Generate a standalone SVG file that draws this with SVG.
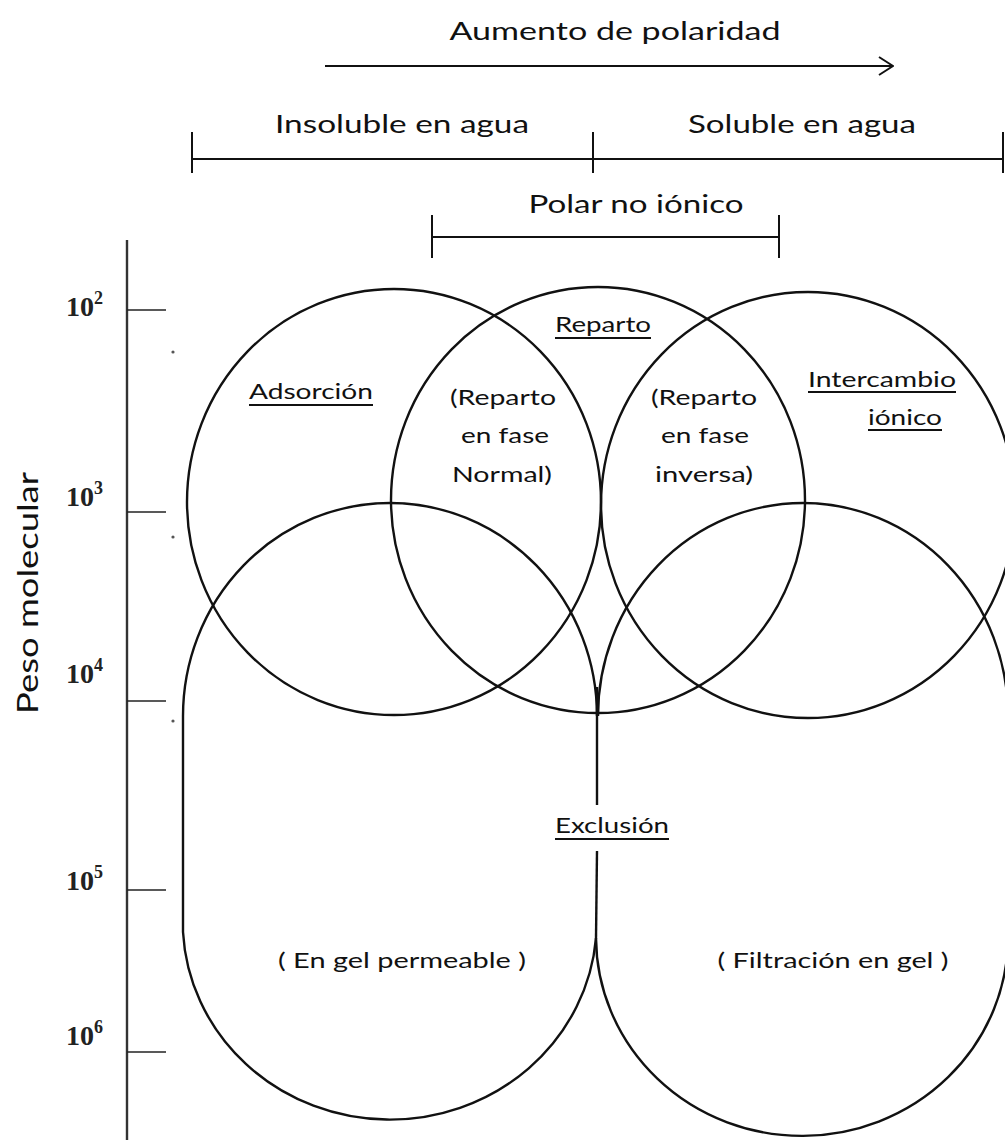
<svg xmlns="http://www.w3.org/2000/svg" width="1005" height="1140" viewBox="0 0 1005 1140">
  <style>
    .ln { stroke: #111; stroke-width: 2; fill: none; }
    .shape { stroke: #111; stroke-width: 2.4; fill: none; }
    .tick { stroke: #222; stroke-width: 1.6; }
    .ul { stroke: #111; stroke-width: 1.8; }
    .lbl { font-family: Lato, "DejaVu Sans", sans-serif; fill: #111; text-anchor: middle; }
    .top { font-size: 25px; }
    .reg { font-size: 22px; }
    .exp { font-family: "Liberation Serif", "DejaVu Serif", serif; font-weight: bold; font-size: 28px; fill: #222; }
    .exp tspan { font-size: 18px; }
  </style>
  <defs>
    <marker id="chev" viewBox="0 0 16 20" refX="15" refY="10" markerWidth="16" markerHeight="20" markerUnits="userSpaceOnUse" orient="auto">
      <path d="M1,1 L15,10 L1,19" fill="none" stroke="#111" stroke-width="2"/>
    </marker>
  </defs>

  <rect width="1005" height="1140" fill="#fff"/>

  <!-- polarity scale across the top -->
  <g id="polarity-scale">
    <text class="lbl top" x="615" y="40" textLength="331" lengthAdjust="spacingAndGlyphs">Aumento de polaridad</text>
    <text class="lbl top" x="402" y="133" textLength="254" lengthAdjust="spacingAndGlyphs">Insoluble en agua</text>
    <text class="lbl top" x="802" y="133" textLength="228" lengthAdjust="spacingAndGlyphs">Soluble en agua</text>
    <line class="ln" x1="192" y1="159" x2="1003" y2="159"/>
    <line class="ln" x1="192" y1="132" x2="192" y2="173"/>
    <line class="ln" x1="593" y1="132" x2="593" y2="173"/>
    <line class="ln" x1="1003" y1="132" x2="1003" y2="173"/>
    <text class="lbl top" x="636" y="213" textLength="215" lengthAdjust="spacingAndGlyphs">Polar no iónico</text>
    <line class="ln" x1="432" y1="237" x2="779" y2="237"/>
    <line class="ln" x1="432" y1="215" x2="432" y2="258"/>
    <line class="ln" x1="779" y1="215" x2="779" y2="258"/>
  </g>

  <!-- molecular weight axis -->
  <g id="weight-axis">
    <line x1="127" y1="240" x2="127" y2="1140" stroke="#333" stroke-width="2.4"/>
    <line class="tick" x1="127" y1="310" x2="166" y2="310"/>
    <line class="tick" x1="127" y1="512" x2="166" y2="512"/>
    <line class="tick" x1="127" y1="701" x2="166" y2="701"/>
    <line class="tick" x1="127" y1="890" x2="166" y2="890"/>
    <line class="tick" x1="127" y1="1052" x2="166" y2="1052"/>
    <text class="exp" x="66" y="316">10<tspan dy="-12">2</tspan></text>
    <text class="exp" x="66" y="506">10<tspan dy="-12">3</tspan></text>
    <text class="exp" x="66" y="683">10<tspan dy="-12">4</tspan></text>
    <text class="exp" x="66" y="890">10<tspan dy="-12">5</tspan></text>
    <text class="exp" x="66" y="1045">10<tspan dy="-12">6</tspan></text>
    <text class="lbl" font-size="29" transform="translate(38 593) rotate(-90)" textLength="242" lengthAdjust="spacingAndGlyphs">Peso molecular</text>
    <circle cx="173" cy="352" r="1.6" fill="#555"/>
    <circle cx="173" cy="537" r="1.6" fill="#555"/>
    <circle cx="173" cy="721" r="1.6" fill="#555"/>
  </g>

  <!-- adsorption region -->
  <g id="adsorcion">
    <ellipse class="shape" cx="394" cy="502" rx="207" ry="213"/>
    <text class="lbl reg" x="311" y="399" textLength="124" lengthAdjust="spacingAndGlyphs">Adsorción</text>
    <line class="ul" x1="249" y1="405" x2="373" y2="405"/>
  </g>

  <!-- partition region -->
  <g id="reparto">
    <ellipse class="shape" cx="598" cy="500" rx="207" ry="213"/>
    <text class="lbl reg" x="603" y="332" textLength="96" lengthAdjust="spacingAndGlyphs">Reparto</text>
    <line class="ul" x1="555" y1="338" x2="651" y2="338"/>
    <text class="lbl reg" x="503" y="405" textLength="106" lengthAdjust="spacingAndGlyphs">(Reparto</text>
    <text class="lbl reg" x="505" y="443" textLength="88" lengthAdjust="spacingAndGlyphs">en fase</text>
    <text class="lbl reg" x="502" y="482" textLength="100" lengthAdjust="spacingAndGlyphs">Normal)</text>
    <text class="lbl reg" x="704" y="405" textLength="106" lengthAdjust="spacingAndGlyphs">(Reparto</text>
    <text class="lbl reg" x="705" y="443" textLength="88" lengthAdjust="spacingAndGlyphs">en fase</text>
    <text class="lbl reg" x="704" y="482" textLength="98" lengthAdjust="spacingAndGlyphs">inversa)</text>
  </g>

  <!-- ion exchange region -->
  <g id="intercambio-ionico">
    <ellipse class="shape" cx="808" cy="505" rx="207" ry="213"/>
    <text class="lbl reg" x="882" y="387" textLength="148" lengthAdjust="spacingAndGlyphs">Intercambio</text>
    <line class="ul" x1="808" y1="392" x2="956" y2="392"/>
    <text class="lbl reg" x="905" y="425" textLength="74" lengthAdjust="spacingAndGlyphs">iónico</text>
    <line class="ul" x1="868" y1="430" x2="942" y2="430"/>
  </g>

  <!-- size exclusion regions -->
  <g id="exclusion">
    <path class="shape" d="M597,716 A207,213 0 0 0 183,716 L183,932 A207,198 0 0 0 596,938"/>
    <path class="shape" d="M598,716 A205,213 0 0 1 1008,716 L1008,936 A206,199 0 0 1 596,938"/>
    <text class="lbl reg" x="612" y="833" textLength="114" lengthAdjust="spacingAndGlyphs">Exclusión</text>
    <line class="ul" x1="555" y1="839" x2="669" y2="839"/>
    <text class="lbl reg" x="402" y="968" textLength="248" lengthAdjust="spacingAndGlyphs">( En gel permeable )</text>
    <text class="lbl reg" x="833" y="968" textLength="231" lengthAdjust="spacingAndGlyphs">( Filtración en gel )</text>
  </g>

  <!-- connectors -->
  <g id="connectors">
    <line class="ln" x1="325" y1="66" x2="893" y2="66" marker-end="url(#chev)"/>
    <line class="shape" x1="597" y1="687" x2="597" y2="805"/>
    <line class="shape" x1="597" y1="851" x2="596" y2="938"/>
  </g>
</svg>
